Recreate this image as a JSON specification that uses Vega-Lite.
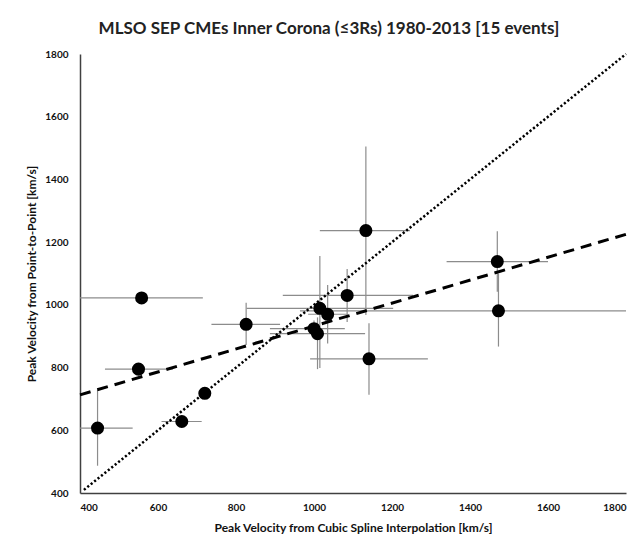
{
  "$schema": "https://vega.github.io/schema/vega-lite/v6.json",
  "width": 546,
  "height": 439,
  "autosize": {"type": "none"},
  "padding": {"left": 80, "top": 54, "right": 18, "bottom": 57},
  "background": "white",
  "title": {
    "text": "MLSO SEP CMEs Inner Corona (≤3Rs)  1980-2013  [15 events]",
    "font": "Lato",
    "fontSize": 17,
    "fontWeight": "bold",
    "color": "#222222",
    "anchor": "middle",
    "frame": "bounds",
    "offset": 11
  },
  "datasets": {
    "events": [
      {"vc": 445, "vp": 607, "xlo": 400, "xhi": 535, "ylo": 487, "yhi": 729},
      {"vc": 558, "vp": 1022, "xlo": 400, "xhi": 715, "ylo": 1022, "yhi": 1022},
      {"vc": 550, "vp": 795, "xlo": 464, "xhi": 638, "ylo": 795, "yhi": 795},
      {"vc": 661, "vp": 628, "xlo": 609, "xhi": 712, "ylo": 628, "yhi": 628},
      {"vc": 720, "vp": 718, "xlo": 720, "xhi": 720, "ylo": 718, "yhi": 718},
      {"vc": 826, "vp": 938, "xlo": 737, "xhi": 913, "ylo": 872, "yhi": 1007},
      {"vc": 1133, "vp": 1237, "xlo": 1015, "xhi": 1246, "ylo": 968, "yhi": 1505},
      {"vc": 1085, "vp": 1030, "xlo": 920, "xhi": 1254, "ylo": 945, "yhi": 1114},
      {"vc": 1015, "vp": 989, "xlo": 827, "xhi": 1203, "ylo": 799, "yhi": 1156},
      {"vc": 1035, "vp": 970, "xlo": 985, "xhi": 1085, "ylo": 877, "yhi": 1063},
      {"vc": 1000, "vp": 924, "xlo": 887, "xhi": 1079, "ylo": 900, "yhi": 950},
      {"vc": 1009, "vp": 908, "xlo": 887, "xhi": 1131, "ylo": 795, "yhi": 960},
      {"vc": 1141, "vp": 828, "xlo": 990, "xhi": 1292, "ylo": 713, "yhi": 941},
      {"vc": 1470, "vp": 1138, "xlo": 1340, "xhi": 1600, "ylo": 1042, "yhi": 1235},
      {"vc": 1473, "vp": 981, "xlo": 964, "xhi": 1800, "ylo": 867, "yhi": 1100}
    ],
    "lines": [
      {"series": "identity", "x": 410, "y": 410},
      {"series": "identity", "x": 1800, "y": 1800},
      {"series": "fit", "x": 400, "y": 713},
      {"series": "fit", "x": 1800, "y": 1225}
    ]
  },
  "encoding": {},
  "layer": [
    {
      "data": {"name": "events"},
      "mark": {"type": "rule", "color": "#8c8c8c", "strokeWidth": 1.2},
      "encoding": {
        "x": {"field": "xlo", "type": "quantitative", "scale": {"domain": [400, 1800], "nice": false, "zero": false},
              "axis": {"title": "Peak Velocity from Cubic Spline Interpolation  [km/s]", "format": "d", "values": [400, 600, 800, 1000, 1200, 1400, 1600, 1800]}},
        "x2": {"field": "xhi"},
        "y": {"field": "vp", "type": "quantitative", "scale": {"domain": [400, 1800], "nice": false, "zero": false},
              "axis": {"title": "Peak Velocity from Point-to-Point  [km/s]", "format": "d", "values": [400, 600, 800, 1000, 1200, 1400, 1600, 1800]}}
      }
    },
    {
      "data": {"name": "events"},
      "mark": {"type": "rule", "color": "#8c8c8c", "strokeWidth": 1.2},
      "encoding": {
        "x": {"field": "vc", "type": "quantitative"},
        "y": {"field": "ylo", "type": "quantitative"},
        "y2": {"field": "yhi"}
      }
    },
    {
      "data": {"name": "lines"},
      "transform": [{"filter": "datum.series === 'identity'"}],
      "mark": {"type": "line", "color": "black", "strokeWidth": 2.5, "strokeDash": [2.2, 2.2]},
      "encoding": {
        "x": {"field": "x", "type": "quantitative"},
        "y": {"field": "y", "type": "quantitative"}
      }
    },
    {
      "data": {"name": "lines"},
      "transform": [{"filter": "datum.series === 'fit'"}],
      "mark": {"type": "line", "color": "black", "strokeWidth": 3, "strokeDash": [11, 7]},
      "encoding": {
        "x": {"field": "x", "type": "quantitative"},
        "y": {"field": "y", "type": "quantitative"}
      }
    },
    {
      "data": {"name": "events"},
      "mark": {"type": "circle", "color": "black", "opacity": 1, "size": 170},
      "encoding": {
        "x": {"field": "vc", "type": "quantitative"},
        "y": {"field": "vp", "type": "quantitative"}
      }
    }
  ],
  "config": {
    "view": {"stroke": null},
    "font": "Lato",
    "axis": {
      "grid": false,
      "ticks": false,
      "domainColor": "#404040",
      "domainWidth": 1.5,
      "labelFont": "Lato",
      "labelFontSize": 10,
      "labelFontWeight": "bold",
      "labelColor": "#111111",
      "titleFont": "Lato",
      "titleFontSize": 12,
      "titleFontWeight": "bold",
      "titleColor": "#111111"
    },
    "axisX": {"labelPadding": 9, "titlePadding": 10},
    "axisY": {"labelPadding": 12, "titlePadding": 6}
  }
}
